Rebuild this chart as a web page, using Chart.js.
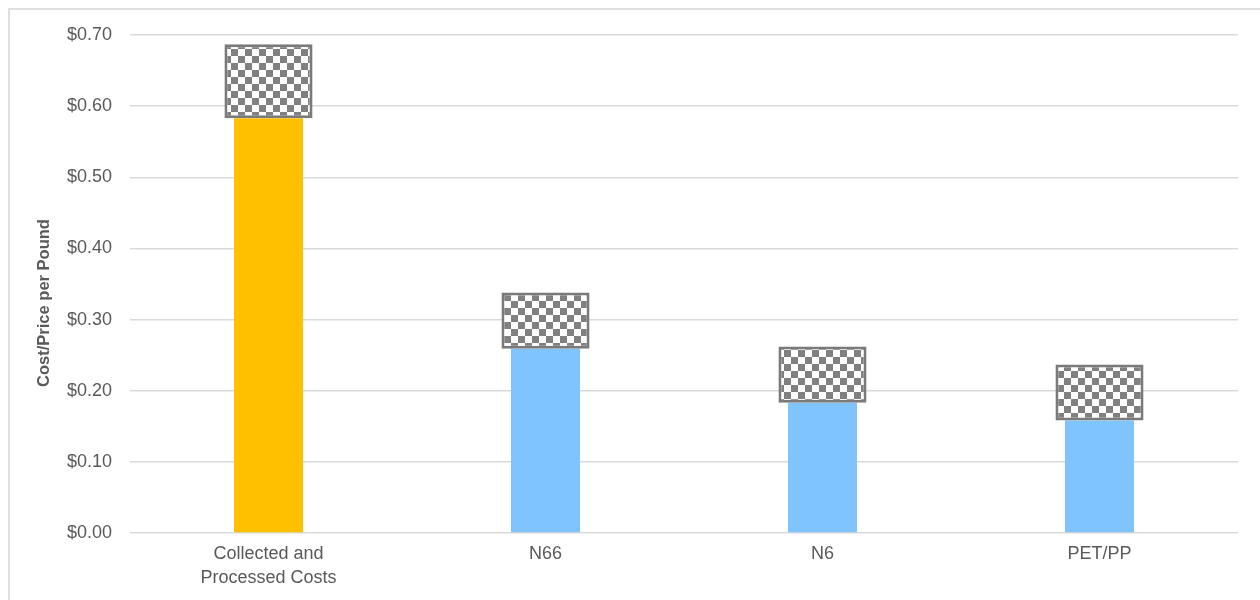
<!DOCTYPE html>
<html>
<head>
<meta charset="utf-8">
<script src="https://cdn.jsdelivr.net/npm/chart.js@4/dist/chart.umd.min.js"></script>
<style>
  html, body { margin: 0; padding: 0; background: #fff; overflow: hidden; }
  .frame { position: absolute; left: 8px; top: 8px; width: 1300px; height: 650px; border: 2px solid #e0e0e0; }
  #chart { position: absolute; left: 0; top: 0; }
</style>
</head>
<body>
<div class="frame"></div>
<canvas id="chart" width="1260" height="600"></canvas>
<script>
const categories = [['Collected and', 'Processed Costs'], 'N66', 'N6', 'PET/PP'];
const baseCost = [0.583, 0.259, 0.183, 0.158];
const upperCost = [0.687, 0.338, 0.262, 0.237];
const baseColors = ['#FFC000', '#7FC4FF', '#7FC4FF', '#7FC4FF'];
const yTicks = [0, 0.1, 0.2, 0.3, 0.4, 0.5, 0.6, 0.7];
const yTitle = 'Cost/Price per Pound';

const FONT = 'Liberation Sans, Arial, sans-serif';

function checkerPattern(ctx) {
  const size = 7;
  const tile = document.createElement('canvas');
  tile.width = size * 2;
  tile.height = size * 2;
  const t = tile.getContext('2d');
  t.fillStyle = '#ffffff';
  t.fillRect(0, 0, size * 2, size * 2);
  t.fillStyle = '#808080';
  t.fillRect(0, 0, size, size);
  t.fillRect(size, size, size, size);
  return ctx.createPattern(tile, 'repeat');
}

// y title sits a bit below the plot centre, like the original
const yTitlePlugin = {
  id: 'yTitle',
  afterDraw(chart) {
    const { ctx, chartArea } = chart;
    const cy = (chartArea.top + chartArea.bottom) / 2 + 19;
    ctx.save();
    ctx.translate(44, cy);
    ctx.rotate(-Math.PI / 2);
    ctx.font = `bold 16.5px ${FONT}`;
    ctx.fillStyle = '#595959';
    ctx.textAlign = 'center';
    ctx.textBaseline = 'middle';
    ctx.fillText(yTitle, 0, 0);
    ctx.restore();
  },
};

function drawChart() {
  const canvas = document.getElementById('chart');
  const ctx = canvas.getContext('2d');

  new Chart(ctx, {
    type: 'bar',
    data: {
      labels: categories,
      datasets: [
        {
          label: 'Range',
          data: baseCost.map((v, i) => [v, upperCost[i]]),
          backgroundColor: checkerPattern(ctx),
          borderColor: '#7a7a7a',
          borderWidth: 3,
          borderSkipped: false,
          barPercentage: 0.318,
          categoryPercentage: 1,
          grouped: false,
          order: 0,
        },
        {
          label: 'Cost',
          data: baseCost,
          backgroundColor: baseColors,
          borderWidth: 0,
          barPercentage: 0.249,
          categoryPercentage: 1,
          grouped: false,
          order: 1,
        },
      ],
    },
    options: {
      responsive: false,
      animation: false,
      layout: { padding: { left: 20, right: 22, top: 35, bottom: 11 } },
      plugins: {
        legend: { display: false },
        tooltip: { enabled: false },
      },
      scales: {
        x: {
          grid: { display: false, drawTicks: false },
          border: { display: false },
          ticks: {
            color: '#595959',
            padding: 10,
            maxRotation: 0,
            font: { family: FONT, size: 18, lineHeight: 1.28 },
          },
          afterFit: scale => { scale.height = 56; },
        },
        y: {
          min: 0,
          max: 0.7,
          afterBuildTicks: scale => { scale.ticks = yTicks.map(value => ({ value })); },
          grid: { color: '#d9d9d9', lineWidth: 1.5, drawTicks: false },
          border: { display: false },
          ticks: {
            color: '#595959',
            padding: 18,
            font: { family: FONT, size: 18 },
            callback: value => '$' + Number(value).toFixed(2),
          },
          afterFit: scale => { scale.width = 110; },
        },
      },
    },
    plugins: [yTitlePlugin],
  });
}

window.addEventListener('DOMContentLoaded', drawChart);
</script>
</body>
</html>
